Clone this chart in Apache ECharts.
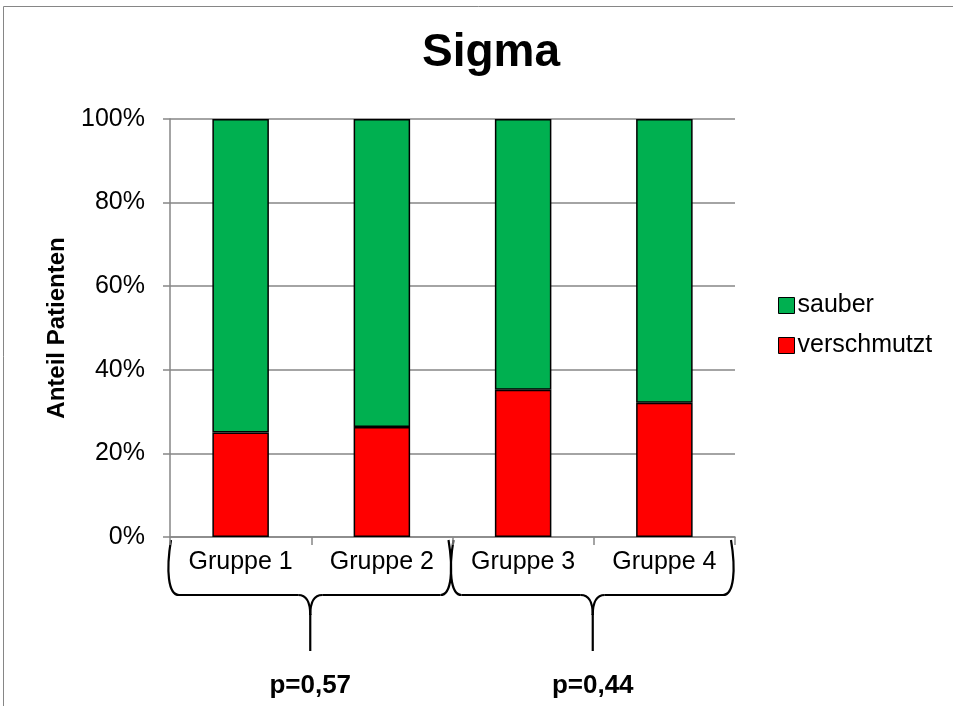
<!DOCTYPE html>
<html><head><meta charset="utf-8">
<script src="https://cdn.jsdelivr.net/npm/echarts@6/dist/echarts.min.js"></script>
<style>html,body{margin:0;padding:0;background:#fff}#c{width:953px;height:706px}</style>
</head><body><div id="c"></div>
<script>
const categories = ['Gruppe 1', 'Gruppe 2', 'Gruppe 3', 'Gruppe 4'];
const verschmutzt = [25.0, 26.3, 35.2, 32.1];
const sauber = [75.0, 73.7, 64.8, 67.9];
const yTicks = [0, 20, 40, 60, 80, 100];
const pValues = ['p=0,57', 'p=0,44'];

const FONT = '"Liberation Sans", Arial, sans-serif';
const chart = echarts.init(document.getElementById('c'), null, {renderer: 'canvas'});
const option = {
  animation: false,
  backgroundColor: '#fff',
  title: {text: 'Sigma', left: 486, top: 25, textAlign: 'center',
    textStyle: {fontFamily: FONT, fontSize: 46, fontWeight: 'bold', color: '#000'}},
  legend: {
    orient: 'vertical', left: 773, top: 288, itemGap: 15,
    itemWidth: 16, itemHeight: 16, icon: 'rect',
    data: ['sauber', 'verschmutzt'],
    textStyle: {fontFamily: FONT, fontSize: 25, color: '#000', padding: [0, 0, 0, -2]},
    itemStyle: {borderColor: '#000', borderWidth: 1}
  },
  grid: {left: 170, right: 218, top: 119, bottom: 169, containLabel: false},
  xAxis: {
    type: 'category', data: categories,
    axisLine: {lineStyle: {color: '#868686', width: 1.5}},
    axisTick: {show: true, length: 8, lineStyle: {color: '#868686', width: 1.5}},
    axisLabel: {fontFamily: FONT, fontSize: 25, color: '#000', margin: 13}
  },
  yAxis: {
    type: 'value', min: yTicks[0], max: yTicks[yTicks.length - 1], interval: 20,
    name: 'Anteil Patienten', nameLocation: 'middle', nameGap: 101, nameRotate: 90,
    nameTextStyle: {fontFamily: FONT, fontSize: 24, fontWeight: 'bold', color: '#000'},
    axisLine: {show: true, lineStyle: {color: '#868686', width: 1.5}},
    axisTick: {show: true, length: 7, lineStyle: {color: '#868686', width: 1.5}},
    splitLine: {lineStyle: {color: '#868686', width: 1.5}},
    axisLabel: {fontFamily: FONT, fontSize: 25, color: '#000', margin: 25, formatter: '{value}%'}
  },
  series: [
    {name: 'verschmutzt', type: 'bar', stack: 's', data: verschmutzt, barWidth: '40%',
      itemStyle: {color: '#FF0000', borderColor: '#000', borderWidth: 1.5}},
    {name: 'sauber', type: 'bar', stack: 's', data: sauber, barWidth: '40%',
      itemStyle: {color: '#00B050', borderColor: '#000', borderWidth: 1.5}}
  ]
};
chart.setOption(option);

// Braces and p-values below the axis (annotations, positioned from axis scales)
const c0 = chart.convertToPixel({xAxisIndex: 0}, 0);
const c1 = chart.convertToPixel({xAxisIndex: 0}, 1);
const w = c1 - c0;
const axisY = chart.convertToPixel({yAxisIndex: 0}, 0);
const braceStyle = {fill: null, stroke: '#000', lineWidth: 2.2};
function braceParts(x0, x1, xm) {
  const top = axisY + 3, mid = axisY + 58, tip = axisY + 114;
  const parts = [];
  [[x0, 1], [x1, -1]].forEach(function (e) {
    const xs = e[0], d = e[1];
    parts.push({type: 'bezierCurve', shape: {x1: xs + 2 * d, y1: top, x2: xs + 10 * d, y2: mid,
      cpx1: xs - 3 * d, cpy1: top + 30, cpx2: xs - 1 * d, cpy2: mid}, style: braceStyle, silent: true});
    parts.push({type: 'line', shape: {x1: xs + 10 * d, y1: mid, x2: xm - 12 * d, y2: mid}, style: braceStyle, silent: true});
    parts.push({type: 'bezierCurve', shape: {x1: xm - 12 * d, y1: mid, x2: xm, y2: mid + 20,
      cpx1: xm - 3 * d, cpy1: mid, cpx2: xm, cpy2: mid + 8}, style: braceStyle, silent: true});
  });
  parts.push({type: 'line', shape: {x1: xm, y1: mid + 19, x2: xm, y2: tip}, style: braceStyle, silent: true});
  return parts;
}
let graphics = [
  {type: 'rect', shape: {x: 3.5, y: 6.5, width: 1000, height: 1000}, style: {fill: null, stroke: '#868686', lineWidth: 1}, silent: true, z: -1}
];
for (let g = 0; g < 2; g++) {
  const left = c0 + 2 * g * w - w / 2;
  const right = left + 2 * w;
  const xm = left + w - 1;
  graphics = graphics.concat(braceParts(left - 1, right - 2, xm));
  graphics.push({type: 'text', x: xm, y: axisY + 149, style: {text: pValues[g], fill: '#000',
    font: 'bold 26px ' + FONT, textAlign: 'center', textVerticalAlign: 'middle'}, silent: true});
}
chart.setOption({graphic: graphics});
</script></body></html>
